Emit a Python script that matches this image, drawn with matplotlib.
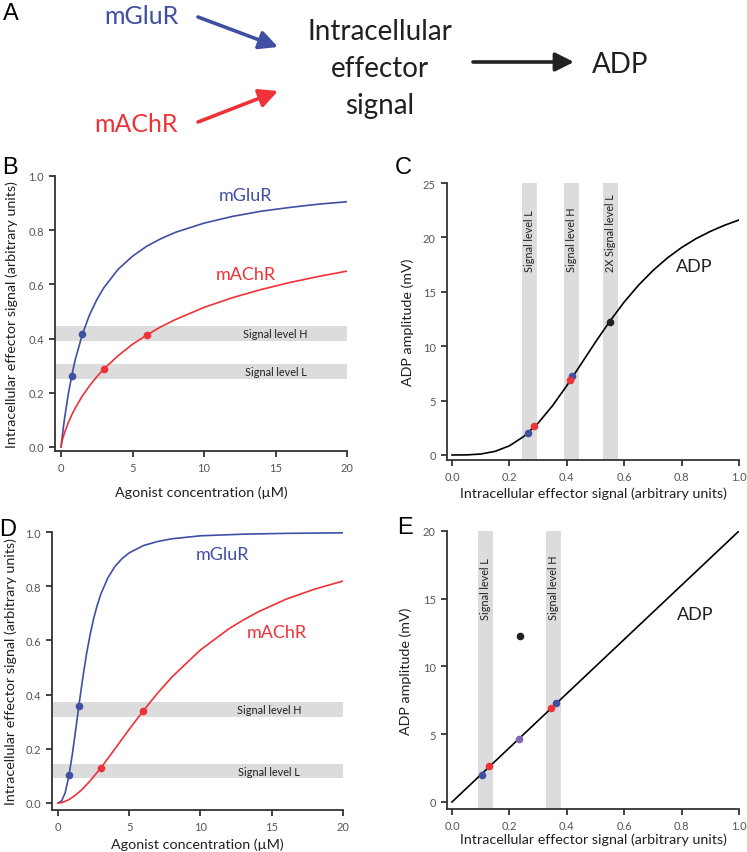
import matplotlib
matplotlib.use('Agg')
import matplotlib.pyplot as plt

plt.rcParams['font.family'] = ['Lato', 'DejaVu Sans']

W, H = 747, 853
BLUE = '#3f4fa2'
RED = '#ee3238'
DARK = '#231f20'
GREY_TXT = '#555555'
BAND = '#dcdcdc'

# panel B: hyperbolic responses
conc_b = [0, 0.1, 0.25, 0.5, 0.75, 1, 1.5, 2, 2.5, 3, 4, 5, 6, 7, 8, 10, 12, 14, 16, 18, 20]
mglur_b = [0, 0.045, 0.106, 0.192, 0.263, 0.323, 0.417, 0.488, 0.543, 0.588, 0.656, 0.704,
           0.741, 0.769, 0.792, 0.826, 0.851, 0.870, 0.884, 0.896, 0.905]
machr_b = [0, 0.026, 0.053, 0.088, 0.118, 0.144, 0.189, 0.226, 0.259, 0.288, 0.337, 0.379,
           0.413, 0.444, 0.470, 0.515, 0.551, 0.581, 0.607, 0.629, 0.649]
dots_b_mglur_x = [0.75, 1.5]
dots_b_mglur_y = [0.263, 0.418]
dots_b_machr_x = [3, 6]
dots_b_machr_y = [0.288, 0.413]
bands_b = {'Signal level H': (0.392, 0.447), 'Signal level L': (0.251, 0.306)}

# panel C: sigmoid ADP
sig_c = [0, 0.05, 0.1, 0.15, 0.2, 0.25, 0.3, 0.35, 0.4, 0.45, 0.5, 0.55, 0.6, 0.65,
         0.7, 0.75, 0.8, 0.85, 0.9, 0.95, 1.0]
adp_c = [0, 0.009, 0.088, 0.334, 0.842, 1.70, 2.93, 4.52, 6.37, 8.37, 10.38, 12.3,
         14.06, 15.61, 16.95, 18.1, 19.07, 19.88, 20.55, 21.12, 21.6]
bands_c = {'Signal level L': (0.245, 0.295), 'Signal level H': (0.391, 0.444),
           '2X Signal level L': (0.525, 0.577)}
dots_c_blue_x = [0.264, 0.417]
dots_c_blue_y = [2.0, 7.23]
dots_c_red_x = [0.287, 0.412]
dots_c_red_y = [2.67, 6.89]
dots_c_black_x = [0.551]
dots_c_black_y = [12.25]

# panel D: cooperative responses
conc_d = [0, 0.25, 0.5, 0.75, 1, 1.25, 1.5, 1.75, 2, 2.25, 2.5, 2.75, 3, 3.5, 4, 4.5, 5,
          6, 7, 8, 10, 12, 13, 14, 16, 18, 20]
mglur_d = [0, 0.007, 0.037, 0.095, 0.177, 0.273, 0.372, 0.465, 0.549, 0.620, 0.680,
           0.729, 0.770, 0.831, 0.873, 0.902, 0.923, 0.950, 0.965, 0.975, 0.986, 0.990,
           0.992, 0.993, 0.995, 0.996, 0.997]
machr_d = [0, 0.001, 0.006, 0.012, 0.020, 0.030, 0.041, 0.053, 0.067, 0.081, 0.097,
           0.113, 0.129, 0.164, 0.200, 0.236, 0.272, 0.341, 0.406, 0.465, 0.565, 0.643,
           0.675, 0.704, 0.752, 0.789, 0.819]
dots_d_mglur_x = [0.75, 1.5]
dots_d_mglur_y = [0.104, 0.359]
dots_d_machr_x = [3, 6]
dots_d_machr_y = [0.129, 0.341]
bands_d = {'Signal level H': (0.318, 0.372), 'Signal level L': (0.091, 0.144)}

# panel E: linear ADP
sig_e = [0, 1.0]
adp_e = [0, 20]
bands_e = {'Signal level L': (0.0895, 0.142), 'Signal level H': (0.3275, 0.380)}
dots_e_blue_x = [0.104, 0.361]
dots_e_blue_y = [1.99, 7.28]
dots_e_red_x = [0.130, 0.345]
dots_e_red_y = [2.68, 6.9]
dots_e_purple_x = [0.233]
dots_e_purple_y = [4.63]
dots_e_black_x = [0.236]
dots_e_black_y = [12.27]


def px_axes(fig, l, t, r, b):
    return fig.add_axes([l / W, 1 - b / H, (r - l) / W, (b - t) / H])


def style(ax, xlim, ylim, xticks, yticks, xfmt, yfmt):
    ax.set_xlim(*xlim)
    ax.set_ylim(*ylim)
    for s in ['top', 'right']:
        ax.spines[s].set_visible(False)
    for s in ['left', 'bottom']:
        ax.spines[s].set_color('#333333')
        ax.spines[s].set_linewidth(1.3)
    ax.set_xticks(xticks)
    ax.set_yticks(yticks)
    ax.set_xticklabels([xfmt.format(v) for v in xticks])
    ax.set_yticklabels([yfmt.format(v) for v in yticks])
    ax.tick_params(direction='out', length=4, width=1.3, color='#333333',
                   labelsize=8, labelcolor=GREY_TXT, pad=4)


def labels(ax, xl, yl, xpos, ypos):
    ax.set_xlabel(xl, fontsize=10.3, color=DARK, va='center')
    ax.set_ylabel(yl, fontsize=10.3, color=DARK, va='center')
    ax.xaxis.set_label_coords(0.5, xpos)
    ax.yaxis.set_label_coords(ypos, 0.5)


fig = plt.figure(figsize=(W / 100, H / 100), dpi=100)

# ---- panel A (schematic)
def ftxt(x, y, s, **kw):
    fig.text(x / W, 1 - y / H, s, ha='center', va='center', **kw)


def farrow(x0, y0, x1, y1, c):
    fig.add_artist(matplotlib.patches.FancyArrowPatch(
        (x0 / W, 1 - y0 / H), (x1 / W, 1 - y1 / H), transform=fig.transFigure,
        arrowstyle='-|>', mutation_scale=28, lw=2.6, color=c, shrinkA=0, shrinkB=0))


ftxt(11, 14, 'A', fontsize=17, color='black', family=['Liberation Sans'])
ftxt(141, 16, 'mGluR', fontsize=18, color=BLUE)
ftxt(136, 124, 'mAChR', fontsize=18, color=RED)
ftxt(380, 32, 'Intracellular', fontsize=20, color=DARK)
ftxt(380, 69, 'effector', fontsize=20, color=DARK)
ftxt(380, 106, 'signal', fontsize=20, color=DARK)
ftxt(620, 65, 'ADP', fontsize=20, color=DARK)
farrow(198, 18, 278, 48, BLUE)
farrow(198, 123, 278, 92, RED)
farrow(473, 63, 574, 63, '#222222')

# ---- panel B
ax = px_axes(fig, 55, 177, 347, 452)
style(ax, (-0.42, 20), (-0.015, 1.0), [0, 5, 10, 15, 20], [0, 0.2, 0.4, 0.6, 0.8, 1.0],
      '{:g}', '{:.1f}')
for name, (lo, hi) in bands_b.items():
    ax.axhspan(lo, hi, color=BAND, lw=0, zorder=0)
    ax.text(15, (lo + hi) / 2, name, fontsize=7.8, ha='center', va='center', color=DARK)
ax.plot(conc_b, mglur_b, color=BLUE, lw=1.2)
ax.plot(conc_b, machr_b, color=RED, lw=1.2)
ax.plot(dots_b_mglur_x, dots_b_mglur_y, 'o', color=BLUE, ms=5.5, mew=0)
ax.plot(dots_b_machr_x, dots_b_machr_y, 'o', color=RED, ms=5.5, mew=0)
ax.text(12.9, 0.93, 'mGluR', color=BLUE, fontsize=13, ha='center', va='center')
ax.text(12.9, 0.64, 'mAChR', color=RED, fontsize=13, ha='center', va='center')
labels(ax, 'Agonist concentration (µM)',
       'Intracellular effector signal (arbitrary units)', -0.149, -0.147)
fig.text(10 / W, 1 - 168 / H, 'B', fontsize=17, ha='center', va='center',
         family=['Liberation Sans'])

# ---- panel C
ax = px_axes(fig, 447, 184, 739, 461)
style(ax, (-0.0174, 1.0), (-0.46, 25), [0, 0.2, 0.4, 0.6, 0.8, 1.0], [0, 5, 10, 15, 20, 25],
      '{:.1f}', '{:g}')
for name, (lo, hi) in bands_c.items():
    ax.axvspan(lo, hi, color=BAND, lw=0, zorder=0)
    ax.text((lo + hi) / 2, 16.9, name, fontsize=7.8, rotation=90, ha='center', va='bottom',
            color=DARK)
ax.plot(sig_c, adp_c, color='black', lw=1.2)
ax.plot(dots_c_blue_x, dots_c_blue_y, 'o', color=BLUE, ms=5.5, mew=0)
ax.plot(dots_c_red_x, dots_c_red_y, 'o', color=RED, ms=5.5, mew=0)
ax.plot(dots_c_black_x, dots_c_black_y, 'o', color='#222222', ms=5.5, mew=0)
ax.text(0.843, 17.4, 'ADP', fontsize=13, ha='center', va='center', color=DARK)
labels(ax, 'Intracellular effector signal (arbitrary units)', 'ADP amplitude (mV)',
       -0.119, -0.134)
fig.text(403 / W, 1 - 168 / H, 'C', fontsize=17, ha='center', va='center',
         family=['Liberation Sans'])

# ---- panel D
ax = px_axes(fig, 52, 533, 343, 811)
style(ax, (-0.42, 20), (-0.026, 1.0), [0, 5, 10, 15, 20], [0, 0.2, 0.4, 0.6, 0.8, 1.0],
      '{:g}', '{:.1f}')
for name, (lo, hi) in bands_d.items():
    ax.axhspan(lo, hi, color=BAND, lw=0, zorder=0)
    ax.text(14.8, (lo + hi) / 2, name, fontsize=7.8, ha='center', va='center', color=DARK)
ax.plot(conc_d, mglur_d, color=BLUE, lw=1.2)
ax.plot(conc_d, machr_d, color=RED, lw=1.2)
ax.plot(dots_d_mglur_x, dots_d_mglur_y, 'o', color=BLUE, ms=5.5, mew=0)
ax.plot(dots_d_machr_x, dots_d_machr_y, 'o', color=RED, ms=5.5, mew=0)
ax.text(11.55, 0.919, 'mGluR', color=BLUE, fontsize=13, ha='center', va='center')
ax.text(15.35, 0.632, 'mAChR', color=RED, fontsize=13, ha='center', va='center')
labels(ax, 'Agonist concentration (µM)',
       'Intracellular effector signal (arbitrary units)', -0.122, -0.141)
fig.text(8 / W, 1 - 530 / H, 'D', fontsize=17, ha='center', va='center',
         family=['Liberation Sans'])

# ---- panel E
ax = px_axes(fig, 447, 532, 739, 810)
style(ax, (-0.0174, 1.0), (-0.52, 20), [0, 0.2, 0.4, 0.6, 0.8, 1.0], [0, 5, 10, 15, 20],
      '{:.1f}', '{:g}')
for name, (lo, hi) in bands_e.items():
    ax.axvspan(lo, hi, color=BAND, lw=0, zorder=0)
    ax.text((lo + hi) / 2, 13.5, name, fontsize=7.8, rotation=90, ha='center', va='bottom',
            color=DARK)
ax.plot(sig_e, adp_e, color='black', lw=1.2)
ax.plot(dots_e_blue_x, dots_e_blue_y, 'o', color=BLUE, ms=5.5, mew=0)
ax.plot(dots_e_red_x, dots_e_red_y, 'o', color=RED, ms=5.5, mew=0)
ax.plot(dots_e_purple_x, dots_e_purple_y, 'o', color='#8065b0', ms=5.5, mew=0)
ax.plot(dots_e_black_x, dots_e_black_y, 'o', color='#222222', ms=5.5, mew=0)
ax.text(0.847, 13.9, 'ADP', fontsize=13, ha='center', va='center', color=DARK)
labels(ax, 'Intracellular effector signal (arbitrary units)', 'ADP amplitude (mV)',
       -0.108, -0.140)
fig.text(405 / W, 1 - 528 / H, 'E', fontsize=17, ha='center', va='center',
         family=['Liberation Sans'])

fig.savefig('out.png', dpi=100)
